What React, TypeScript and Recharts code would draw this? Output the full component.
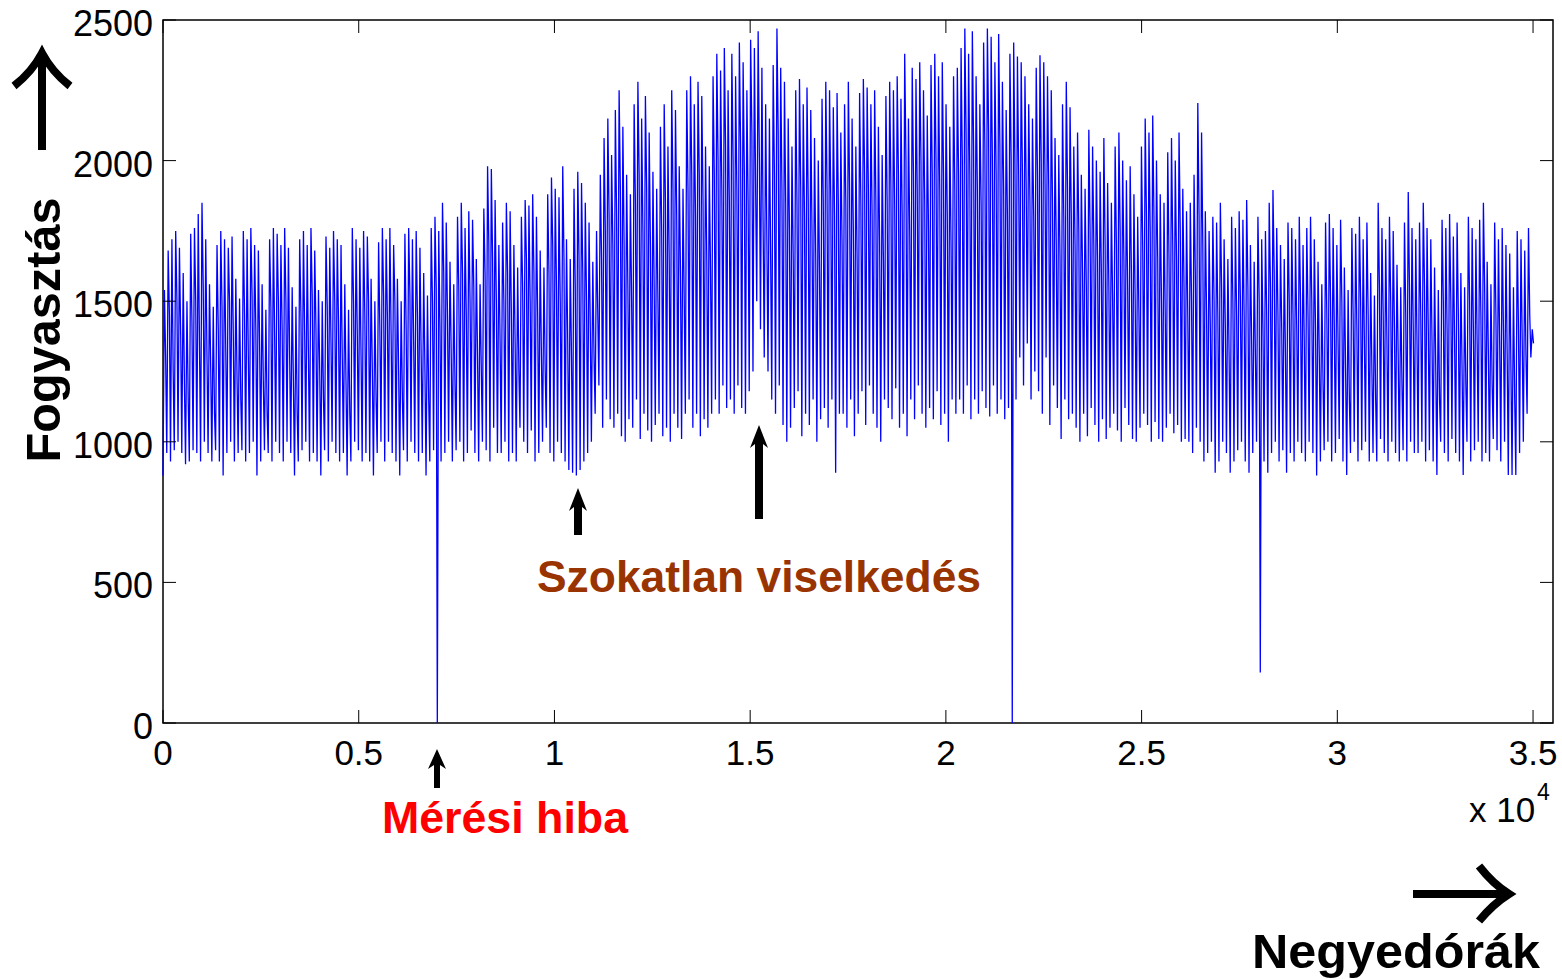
import React from 'react'
import { LineChart, Line, XAxis, YAxis, ReferenceArea } from 'recharts'

// per day: night minimum, daytime peak, evening level (one set of arrays per month)
const janLow = [880, 960, 930, 970, 1000, 960, 920, 930, 970, 960, 930, 1000, 960, 930, 970, 930, 880, 960, 1000, 930, 960, 970, 930, 960, 1000, 880, 930, 970, 960, 930, 1000]
const janHigh = [1540, 1680, 1720, 1750, 1690, 1600, 1500, 1740, 1760, 1810, 1850, 1720, 1560, 1480, 1700, 1750, 1720, 1690, 1730, 1580, 1510, 1750, 1720, 1760, 1700, 1680, 1560, 1470, 1720, 1760, 1740]
const janEve = [1300, 1450, 1250, 1500, 1380, 1200, 1150, 1420, 1500, 1350, 1550, 1300, 1250, 1100, 1400, 1480, 1320, 1500, 1380, 1220, 1150, 1450, 1300, 1520, 1400, 1350, 1200, 1100, 1480, 1380, 1500]
const febLow = [960, 930, 1000, 960, 880, 930, 970, 1000, 930, 960, 930, 880, 970, 930, 1000, 960, 930, 960, 880, 930, 1000, 970, 930, 960, 930, 880, 960, 1000]
const febHigh = [1700, 1760, 1690, 1550, 1480, 1720, 1750, 1700, 1760, 1680, 1540, 1500, 1730, 1690, 1750, 1720, 1700, 1560, 1470, 1760, 1720, 1690, 1750, 1730, 1580, 1500, 1710, 1760]
const febEve = [1400, 1500, 1300, 1200, 1100, 1450, 1380, 1300, 1520, 1400, 1250, 1150, 1480, 1350, 1500, 1420, 1300, 1200, 1100, 1500, 1380, 1300, 1450, 1500, 1250, 1150, 1400, 1520]
const marLow = [930, 1000, 960, 930, 880, 970, 930, 1000, 960, 930, 960, 880, 930, 970, 0, 930, 960, 1000, 930, 970, 1000, 930, 960, 1040, 960, 930, 1000, 970, 930, 1050, 960]
const marHigh = [1720, 1760, 1700, 1580, 1500, 1740, 1760, 1720, 1750, 1690, 1600, 1520, 1760, 1800, 1750, 1850, 1780, 1640, 1560, 1800, 1850, 1760, 1820, 1790, 1650, 1560, 1830, 1980, 1970, 1860, 1700]
const marEve = [1450, 1380, 1500, 1250, 1150, 1400, 1520, 1350, 1450, 1300, 1250, 1150, 1500, 1550, 1400, 1600, 1450, 1300, 1200, 1550, 1600, 1450, 1500, 1550, 1300, 1250, 1600, 1700, 1650, 1500, 1350]
const aprLow = [960, 1000, 930, 960, 930, 1050, 1000, 960, 1040, 930, 960, 1000, 1050, 960, 930, 1000, 960, 930, 900, 890, 880, 900, 930, 960, 1000, 1100, 1200, 1050, 1150, 1080]
const aprHigh = [1780, 1850, 1820, 1700, 1620, 1800, 1860, 1840, 1880, 1800, 1680, 1620, 1880, 1940, 1900, 1870, 1980, 1720, 1650, 1900, 1960, 1920, 1850, 1780, 1640, 1750, 1950, 2080, 2150, 2020]
const aprEve = [1500, 1600, 1450, 1350, 1250, 1550, 1650, 1500, 1600, 1450, 1300, 1250, 1600, 1700, 1550, 1500, 1650, 1350, 1300, 1550, 1650, 1600, 1500, 1400, 1300, 1450, 1650, 1750, 1800, 1700]
const mayLow = [1050, 1100, 1020, 1000, 1080, 1050, 1150, 1010, 1100, 1040, 1000, 1060, 1100, 1020, 1050, 1000, 1100, 1050, 1010, 1100, 1150, 1050, 1100, 1020, 1080, 1050, 1100, 1150, 1100, 1200, 1120]
const mayHigh = [2180, 2250, 2120, 1950, 1880, 2200, 2280, 2150, 2230, 2100, 1960, 1900, 2120, 2200, 2050, 2250, 2180, 1980, 1900, 2250, 2300, 2200, 2280, 2230, 2050, 1980, 2300, 2380, 2320, 2400, 2250]
const mayEve = [1800, 1900, 1700, 1550, 1500, 1850, 1950, 1750, 1900, 1700, 1550, 1500, 1750, 1850, 1650, 1900, 1800, 1600, 1500, 1900, 1950, 1800, 1950, 1850, 1650, 1600, 1950, 2000, 1900, 2050, 1850]
const junLow = [1150, 1100, 1200, 1120, 1100, 1180, 1250, 1500, 1400, 1300, 1250, 1150, 1100, 1200, 1060, 1000, 1050, 1120, 1180, 1020, 1100, 1060, 1150, 1000, 1080, 1120, 1050, 1150, 890, 1100]
const junHigh = [2380, 2300, 2420, 2350, 2250, 2430, 2400, 2460, 2330, 2200, 2150, 2340, 2470, 2330, 2280, 2150, 2050, 2250, 2290, 2200, 2260, 2180, 2080, 2000, 2220, 2280, 2250, 2190, 2240, 2100]
const junEve = [2000, 1900, 2050, 1950, 1850, 2100, 1900, 2000, 1750, 1700, 1650, 1950, 2100, 1900, 1850, 1750, 1650, 1850, 1900, 1800, 1850, 1750, 1650, 1600, 1850, 1900, 1850, 1800, 1850, 1700]
const julLow = [1100, 1050, 1150, 1020, 1100, 1180, 1060, 1200, 1100, 1050, 1000, 1150, 1120, 1080, 1190, 1050, 1100, 1020, 1150, 1080, 1200, 1100, 1050, 1120, 1080, 1180, 1060, 1100, 1000, 1150, 1100]
const julHigh = [2200, 2280, 2150, 2050, 2240, 2290, 2260, 2200, 2250, 2120, 2020, 2230, 2280, 2250, 2300, 2220, 2380, 2150, 2330, 2290, 2350, 2250, 2160, 2340, 2380, 2300, 2350, 2200, 2120, 2300, 2330]
const julEve = [1850, 1900, 1750, 1650, 1850, 1950, 1900, 1800, 1850, 1700, 1650, 1850, 1900, 1850, 1950, 1800, 2000, 1750, 1950, 1900, 2000, 1850, 1750, 1950, 2000, 1900, 1950, 1800, 1700, 1900, 1950]
const augLow = [1150, 1100, 1200, 1080, 1150, 1100, 1180, 1120, 1090, 1200, 1100, 1150, 1080, 1120, 0, 1150, 1300, 1200, 1350, 1150, 1250, 1180, 1100, 1300, 1060, 1200, 1120, 1010, 1150, 1080, 1100]
const augHigh = [2400, 2470, 2380, 2460, 2300, 2200, 2420, 2470, 2440, 2350, 2450, 2280, 2180, 2380, 2420, 2370, 2350, 2300, 2200, 2150, 2330, 2375, 2350, 2300, 2250, 2080, 2020, 2200, 2280, 2190, 2050]
const augEve = [2000, 2100, 1950, 2050, 1900, 1850, 2050, 2100, 2000, 1950, 2050, 1900, 1800, 2000, 2000, 1950, 1950, 1900, 1850, 1800, 1950, 2000, 1950, 1900, 1850, 1700, 1650, 1800, 1900, 1800, 1700]
const sepLow = [1050, 1000, 1100, 1020, 1120, 1060, 1000, 1080, 1010, 1050, 1100, 1040, 1000, 1120, 1060, 1010, 1000, 1050, 1100, 1060, 1000, 1070, 1010, 1000, 1050, 1100, 1030, 1060, 1000, 1010]
const sepHigh = [2100, 1950, 1900, 2110, 2050, 2000, 1960, 2080, 1920, 1850, 2050, 2100, 2000, 1930, 1980, 1880, 1800, 2050, 2150, 2100, 2160, 2000, 1880, 1850, 2030, 2080, 2000, 2100, 1900, 1820]
const sepEve = [1750, 1600, 1550, 1750, 1700, 1650, 1600, 1700, 1550, 1500, 1700, 1750, 1650, 1550, 1600, 1500, 1450, 1700, 1800, 1750, 1800, 1650, 1500, 1450, 1650, 1700, 1650, 1750, 1550, 1450]
const octLow = [1000, 960, 1050, 1000, 930, 960, 1000, 890, 930, 1000, 960, 890, 930, 970, 1000, 930, 890, 960, 1000, 180, 930, 890, 960, 1000, 930, 970, 890, 960, 930, 1000, 960]
const octHigh = [1850, 1950, 2205, 2100, 1820, 1750, 1800, 1780, 1850, 1720, 1650, 1800, 1760, 1820, 1790, 1860, 1700, 1640, 1800, 1720, 1750, 1850, 1895, 1760, 1700, 1650, 1780, 1760, 1720, 1800, 1700]
const octEve = [1500, 1600, 1800, 1700, 1450, 1400, 1500, 1450, 1550, 1400, 1300, 1500, 1450, 1500, 1450, 1550, 1350, 1300, 1500, 1400, 1450, 1550, 1600, 1450, 1400, 1300, 1500, 1450, 1400, 1500, 1350]
const novLow = [930, 1000, 960, 880, 930, 970, 1000, 930, 960, 1010, 930, 882, 960, 1000, 930, 970, 1000, 930, 960, 930, 1010, 960, 930, 1000, 960, 930, 970, 930, 1000, 960]
const novHigh = [1760, 1800, 1720, 1640, 1560, 1780, 1810, 1760, 1700, 1790, 1620, 1540, 1760, 1740, 1800, 1720, 1780, 1600, 1520, 1850, 1760, 1720, 1800, 1750, 1630, 1550, 1780, 1888, 1760, 1720]
const novEve = [1450, 1500, 1400, 1300, 1200, 1450, 1500, 1400, 1350, 1500, 1250, 1150, 1450, 1400, 1500, 1350, 1450, 1250, 1150, 1550, 1450, 1350, 1500, 1400, 1300, 1200, 1450, 1550, 1400, 1350]
const decLow = [960, 1000, 930, 970, 930, 882, 1000, 960, 930, 1010, 960, 930, 882, 1000, 930, 970, 1000, 930, 960, 930, 1010, 970, 930, 1000, 882, 882, 882, 960, 1000, 1100, 1300]
const decHigh = [1780, 1850, 1760, 1720, 1620, 1540, 1790, 1760, 1810, 1730, 1780, 1600, 1550, 1800, 1760, 1720, 1790, 1850, 1640, 1560, 1780, 1720, 1760, 1700, 1670, 1550, 1750, 1720, 1680, 1760, 1400]
const decEve = [1450, 1550, 1400, 1350, 1250, 1150, 1500, 1400, 1500, 1350, 1450, 1250, 1200, 1500, 1400, 1350, 1450, 1550, 1300, 1200, 1450, 1350, 1400, 1300, 1250, 1150, 1400, 1350, 1300, 1450, 1350]

const xTicks = [0, 5000, 10000, 15000, 20000, 25000, 30000, 35000]
const yTicks = [0, 500, 1000, 1500, 2000, 2500]

const months = [
  [janLow, janHigh, janEve], [febLow, febHigh, febEve], [marLow, marHigh, marEve],
  [aprLow, aprHigh, aprEve], [mayLow, mayHigh, mayEve], [junLow, junHigh, junEve],
  [julLow, julHigh, julEve], [augLow, augHigh, augEve], [sepLow, sepHigh, sepEve],
  [octLow, octHigh, octEve], [novLow, novHigh, novEve], [decLow, decHigh, decEve],
]

// 96 quarter hours per day
const QPD = 96
const data: { t: number; v: number }[] = []
let day = 0
months.forEach(([lo, hi, eve]) => {
  lo.forEach((v, i) => {
    data.push({ t: day * QPD, v })
    data.push({ t: day * QPD + 36, v: hi[i] })
    data.push({ t: day * QPD + 68, v: eve[i] })
    day++
  })
})

const W = 1562
const H = 979
const LEFT = 163
const RIGHT = 1553
const TOP = 20
const BOTTOM = 723
const TICK = 13
const font = 'Liberation Sans, Arial, Helvetica, sans-serif'

const XTick = (props: any) => {
  const { x, payload } = props
  return (
    <g>
      <line x1={x} x2={x} y1={BOTTOM} y2={BOTTOM - TICK} stroke="#000" />
      <line x1={x} x2={x} y1={TOP} y2={TOP + TICK} stroke="#000" />
      <text x={x} y={BOTTOM + 42} textAnchor="middle" fontSize={35} fontFamily={font} fill="#000">
        {payload.value / 10000}
      </text>
    </g>
  )
}

const YTick = (props: any) => {
  const { y, payload } = props
  return (
    <g>
      <line x1={LEFT} x2={LEFT + TICK} y1={y} y2={y} stroke="#000" />
      <line x1={RIGHT} x2={RIGHT - TICK} y1={y} y2={y} stroke="#000" />
      <text x={LEFT - 10} y={y + 16} textAnchor="end" fontSize={36} fontFamily={font} fill="#000">
        {payload.value}
      </text>
    </g>
  )
}

const boldText = { fontFamily: font, fontWeight: 700 as const }

function Annotations() {
  return (
    <svg width={W} height={H} style={{ position: 'absolute', left: 0, top: 0, pointerEvents: 'none' }}>
      {/* axis titles with arrows */}
      <g fill="none" stroke="#000" strokeWidth={8} strokeLinecap="butt">
        <path d="M42,150 L42,58" />
        <path d="M14,86 Q32,72 42,53 Q52,72 70,86" />
        <path d="M1413,894 L1504,894" />
        <path d="M1479,866 Q1493,884 1509,894 Q1493,904 1479,921" />
      </g>
      <text transform="translate(60,330) rotate(-90)" textAnchor="middle" fontSize={48} {...boldText} fill="#000"
        textLength={265} lengthAdjust="spacingAndGlyphs">
        Fogyasztás
      </text>
      <text x={1396} y={968} textAnchor="middle" fontSize={48} {...boldText} fill="#000"
        textLength={288} lengthAdjust="spacingAndGlyphs">
        Negyedórák
      </text>
      <text x={1469} y={822} fontSize={35} fontFamily={font} fill="#000">x 10</text>
      <text x={1537} y={800} fontSize={23} fontFamily={font} fill="#000">4</text>

      {/* event arrows */}
      <g fill="#000">
        <path d="M437,749 L446,769 L440,765 L440,788 L434,788 L434,765 L428,769 Z" />
        <path d="M578,488 L587,511 L582,507 L582,535 L574,535 L574,507 L569,511 Z" />
        <path d="M759,425 L768,448 L763,444 L763,519 L755,519 L755,444 L750,448 Z" />
      </g>
      <text x={505} y={833} textAnchor="middle" fontSize={44} {...boldText} fill="#ff0000"
        textLength={246} lengthAdjust="spacingAndGlyphs">
        Mérési hiba
      </text>
      <text x={759} y={592} textAnchor="middle" fontSize={44} {...boldText} fill="#993300"
        textLength={444} lengthAdjust="spacingAndGlyphs">
        Szokatlan viselkedés
      </text>
    </svg>
  )
}

export default function App() {
  return (
    <div style={{ position: 'absolute', left: 0, top: 0, width: W, height: H, background: '#fff' }}>
      <LineChart width={W} height={H} data={data} margin={{ top: TOP, right: W - RIGHT, bottom: 216, left: 63 }}>
        <XAxis
          dataKey="t"
          type="number"
          domain={[0, 35510]}
          ticks={xTicks}
          interval={0}
          height={40}
          tickSize={0}
          tickLine={false}
          axisLine={false}
          tick={<XTick />}
        />
        <YAxis
          type="number"
          domain={[0, 2500]}
          ticks={yTicks}
          interval={0}
          width={100}
          tickSize={0}
          tickLine={false}
          axisLine={false}
          tick={<YTick />}
        />
        <Line
          type="linear"
          dataKey="v"
          stroke="#0000ff"
          strokeWidth={1.3}
          dot={false}
          activeDot={false}
          isAnimationActive={false}
        />
        <ReferenceArea x1={0} x2={35510} y1={0} y2={2500} fill="none" stroke="#000" strokeWidth={1.5} />
      </LineChart>
      <Annotations />
    </div>
  )
}
